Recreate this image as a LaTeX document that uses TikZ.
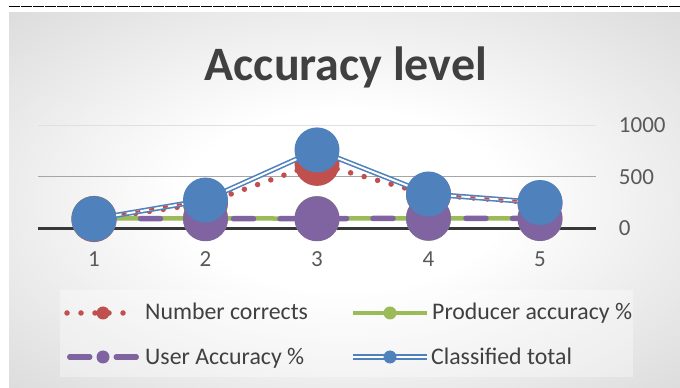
\documentclass[tikz,border=0pt]{standalone}
\usepackage{fontspec}
\setmainfont{Carlito}
\usepackage{tikz}
\usetikzlibrary{positioning}
\definecolor{ncred}{HTML}{C0504D}
\definecolor{pagreen}{HTML}{9BBB59}
\definecolor{uapurple}{HTML}{8064A2}
\definecolor{ctblue}{HTML}{4F81BD}
\definecolor{titlegray}{HTML}{404040}
\definecolor{labelgray}{HTML}{595959}
\pgfdeclareradialshading{panelglow}{\pgfpoint{0bp}{0bp}}{color(0bp)=(white); color(12bp)=(white); color(50bp)=(black!22)}
\tikzstyle{gridline} = [line width=1pt]
\tikzstyle{zeroaxis} = [draw=black!78, line width=3.5pt]
\tikzstyle{ticklabel} = [font=\fontsize{23}{23}\selectfont, text=labelgray, inner sep=0pt]
\tikzstyle{legendlabel} = [font=\fontsize{23.8}{24}\selectfont, text=titlegray, inner sep=0pt, anchor=base west]
\tikzstyle{ncline} = [draw=ncred, line width=5.5pt, line cap=round, dash pattern=on 0pt off 14pt]
\tikzstyle{ncgap} = [draw=ncred, line width=2pt, dash pattern=on 5pt off 9pt]
\tikzstyle{paline} = [draw=pagreen, line width=4.5pt]
\tikzstyle{ualine} = [draw=uapurple, line width=5.5pt, line cap=round, dash pattern=on 20pt off 26.5pt]
\tikzstyle{ctline} = [draw=ctblue, line width=1.6pt, double=white, double distance=2pt]
\tikzstyle{bigdot} = [radius=22.5pt]
\tikzstyle{smalldot} = [radius=6.5pt]

\begin{document}
\begin{tikzpicture}[x=1pt, y=1pt]
\useasboundingbox (0,0) rectangle (680,388);
% rule above the chart
\draw [black, line width=1.2pt, dash pattern=on 11pt off 1pt] (9,381.3) -- (680,381.3);
% chart area
\shade [shading=panelglow] (9,0) rectangle (680,375);
\node (title) [font=\fontsize{48}{48}\selectfont\bfseries, text=titlegray, anchor=base, inner sep=0pt] at (346,307) {Accuracy level};

\begin{scope}[shift={(94,159.7)}, x=111.5pt, y=0.1027pt]
% gridlines and value axis
\draw [gridline, draw=black!12] (-0.5,1000) -- (4.5,1000);
\draw [gridline, draw=black!35] (-0.5,500) -- (4.5,500);
\draw [zeroaxis] (-0.5,0) -- (4.5,0);
\node (v1000) [ticklabel, anchor=west, xshift=23pt] at (4.5,1000) {1000};
\node (v500) [ticklabel, anchor=west, xshift=23pt] at (4.5,500) {500};
\node (v0) [ticklabel, anchor=west, xshift=23pt] at (4.5,0) {0};
\node (c1) [ticklabel, anchor=base, yshift=-38.7pt] at (0,0) {1};
\node (c2) [ticklabel, anchor=base, yshift=-38.7pt] at (1,0) {2};
\node (c3) [ticklabel, anchor=base, yshift=-38.7pt] at (2,0) {3};
\node (c4) [ticklabel, anchor=base, yshift=-38.7pt] at (3,0) {4};
\node (c5) [ticklabel, anchor=base, yshift=-38.7pt] at (4,0) {5};

% data points
\coordinate (nc1) at (0,85);  \coordinate (nc2) at (1,245); \coordinate (nc3) at (2,632);
\coordinate (nc4) at (3,328); \coordinate (nc5) at (4,246);
\coordinate (pa1) at (0,97);  \coordinate (pa2) at (1,96);  \coordinate (pa3) at (2,95);
\coordinate (pa4) at (3,97);  \coordinate (pa5) at (4,96);
\coordinate (ua1) at (0,95);  \coordinate (ua2) at (1,93);  \coordinate (ua3) at (2,93);
\coordinate (ua4) at (3,98);  \coordinate (ua5) at (4,95);
\coordinate (ct1) at (0,90);  \coordinate (ct2) at (1,275); \coordinate (ct3) at (2,763);
\coordinate (ct4) at (3,334); \coordinate (ct5) at (4,251);

% series, each line then its markers
\draw [ncline] (nc1) -- (nc2) -- (nc3) -- (nc4) -- (nc5);
\fill [ncred, bigdot] (nc1) circle [] (nc2) circle [] (nc3) circle [] (nc4) circle [] (nc5) circle [];
\draw [paline] (pa1) -- (pa2) -- (pa3) -- (pa4) -- (pa5);
\fill [pagreen, bigdot] (pa1) circle [] (pa2) circle [] (pa3) circle [] (pa4) circle [] (pa5) circle [];
\draw [ualine] (ua1) -- (ua2) -- (ua3) -- (ua4) -- (ua5);
\fill [uapurple, bigdot] (ua1) circle [] (ua2) circle [] (ua3) circle [] (ua4) circle [] (ua5) circle [];
\draw [ctline] (ct1) -- (ct2) -- (ct3) -- (ct4) -- (ct5);
% red dots showing through the open middle of the double line
\draw [ncgap] (ct1) -- (ct2);
\draw [ncgap] (ct4) -- (ct5);
\fill [ctblue, bigdot] (ct1) circle [] (ct2) circle [] (ct3) circle [] (ct4) circle [] (ct5) circle [];
\end{scope}

% legend
\fill [white, opacity=0.35] (60,11) rectangle (633,98);
\coordinate (lgnca) at (67,75);  \coordinate (lgncb) at (126,75);  \coordinate (lgnc) at (103,75);
\coordinate (lgpaa) at (353,75); \coordinate (lgpab) at (427,75);  \coordinate (lgpa) at (390,75);
\coordinate (lguaa) at (69.75,31); \coordinate (lguab) at (137.5,31); \coordinate (lgua) at (103,31);
\coordinate (lgcta) at (353,31); \coordinate (lgctb) at (427,31);  \coordinate (lgct) at (390,31);
\draw [ncline] (lgnca) -- (lgncb);
\fill [ncred, smalldot] (lgnc) circle [];
\draw [paline] (lgpaa) -- (lgpab);
\fill [pagreen, smalldot] (lgpa) circle [];
\draw [ualine] (lguaa) -- (lguab);
\fill [uapurple, smalldot] (lgua) circle [];
\draw [ctline] (lgcta) -- (lgctb);
\fill [ctblue, smalldot] (lgct) circle [];
\node (lbnc) [legendlabel] at (145,68) {Number corrects};
\node (lbpa) [legendlabel] at (432,68) {Producer accuracy \%};
\node (lbua) [legendlabel] at (145,23) {User Accuracy \%};
\node (lbct) [legendlabel] at (431,23) {Classified total};
\end{tikzpicture}
\end{document}
